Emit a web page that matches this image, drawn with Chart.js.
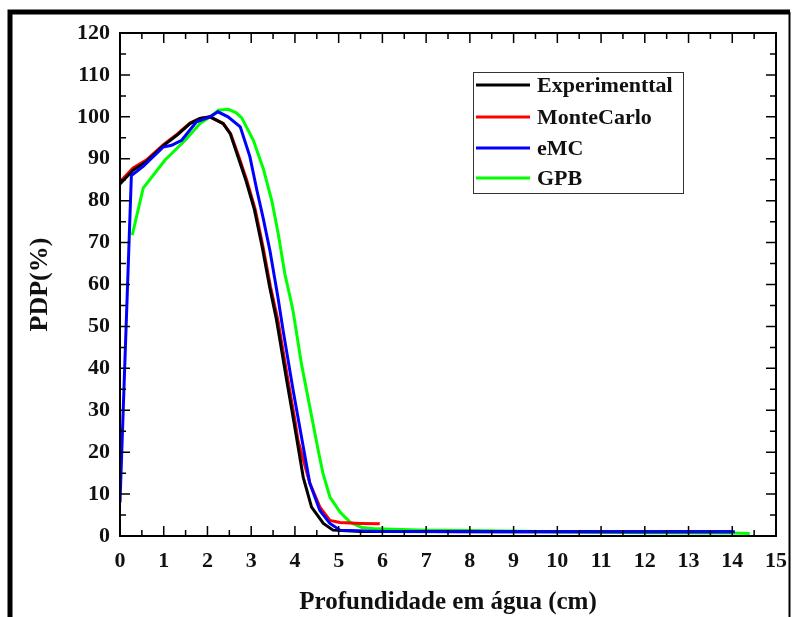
<!DOCTYPE html>
<html>
<head>
<meta charset="utf-8">
<script src="https://cdn.jsdelivr.net/npm/chart.js@4"></script>
<style>
  html, body { margin: 0; padding: 0; background: #fff; }
  canvas { display: block; }
</style>
</head>
<body>
<canvas id="myChart" width="792" height="617"></canvas>
<script>
// depth (cm) and PDP (%) for each curve
var expX = [0, 0.3, 0.6, 1.0, 1.3, 1.6, 1.83, 2.06, 2.36, 2.52, 2.7, 2.88, 3.07, 3.25, 3.42, 3.58, 3.81, 3.98, 4.19, 4.38, 4.65, 4.87, 5.5, 7, 9, 11, 14];
var expY = [84, 87.3, 89.3, 93.2, 95.6, 98.4, 99.6, 100, 98.4, 96, 90.4, 84.8, 78, 69, 59.5, 51.5, 37.2, 27, 14, 6.9, 3, 1.4, 1.1, 1.1, 1.0, 1.0, 1.0];

var mcX = [0, 0.3, 0.6, 1.0, 1.3, 1.6, 1.83, 2.06, 2.36, 2.53, 2.72, 2.9, 3.09, 3.27, 3.44, 3.61, 3.84, 4.0, 4.07, 4.34, 4.57, 4.8, 5.03, 5.5, 5.94];
var mcY = [84.5, 87.8, 89.7, 93.4, 95.8, 98.5, 99.6, 100, 98.4, 96, 90.4, 84.8, 78, 69, 59.5, 51.5, 37.2, 27.6, 22.8, 12.6, 6.9, 3.7, 3.2, 3.0, 2.9];

var emcX = [0, 0.26, 0.53, 0.99, 1.18, 1.41, 1.75, 2.06, 2.24, 2.47, 2.75, 2.97, 3.13, 3.27, 3.43, 3.61, 3.73, 3.96, 4.15, 4.34, 4.57, 4.8, 5.03, 6, 8, 10, 12, 14.06];
var emcY = [8, 86, 88.2, 92.8, 93.2, 94.4, 98.8, 100, 101.2, 100, 97.6, 90.5, 82.5, 76, 68, 57, 49, 34.7, 23.6, 12.6, 6.1, 3, 1.4, 1.1, 1.0, 1.0, 1.0, 1.0];

var gpbX = [0.28, 0.53, 1.03, 1.49, 1.83, 2.06, 2.25, 2.48, 2.65, 2.78, 3.05, 3.28, 3.48, 3.62, 3.77, 3.89, 3.96, 4.15, 4.34, 4.46, 4.55, 4.64, 4.8, 5.03, 5.26, 5.53, 5.87, 7, 8, 10, 12, 14, 14.4];
var gpbY = [71.8, 83, 89.7, 94.4, 98.4, 100, 101.6, 101.8, 101, 99.8, 94.4, 87.5, 79.6, 72, 62.5, 57, 53.5, 41, 30.8, 24.3, 19.5, 15, 9.3, 5.7, 3.3, 2, 1.7, 1.4, 1.3, 1.0, 0.8, 0.7, 0.6];

var seriesNames = ["Experimenttal", "MonteCarlo", "eMC", "GPB"];
var seriesColors = ["#000000", "#ff0000", "#0000ff", "#00ff00"];

var xTicks = [0, 15, 1];    // min, max, step
var yTicks = [0, 120, 10];

function toPoints(xs, ys) {
  return xs.map(function (x, i) { return { x: x, y: ys[i] }; });
}

var FONT = "'Liberation Serif', 'Times New Roman', serif";

// outer frame, plot box, inward ticks and the boxed legend
var framePlugin = {
  id: 'framePlugin',
  beforeDraw: function (chart) {
    var ctx = chart.ctx;
    ctx.save();
    ctx.fillStyle = '#fff';
    ctx.fillRect(0, 0, chart.width, chart.height);
    ctx.strokeStyle = '#000';
    ctx.lineWidth = 5;
    ctx.beginPath();
    ctx.moveTo(10, chart.height);
    ctx.lineTo(10, 12);
    ctx.lineTo(790, 12);
    ctx.stroke();
    ctx.lineWidth = 2;
    ctx.beginPath();
    ctx.moveTo(789.5, 12);
    ctx.lineTo(789.5, chart.height);
    ctx.stroke();
    ctx.restore();
  },
  afterDatasetsDraw: function (chart) {
    var ctx = chart.ctx, a = chart.chartArea;
    var xs = chart.scales.x, ys = chart.scales.y;
    ctx.save();
    ctx.strokeStyle = '#000';
    ctx.lineWidth = 2;
    ctx.strokeRect(a.left, a.top, a.right - a.left, a.bottom - a.top);
    ctx.lineWidth = 1.5;
    ctx.beginPath();
    xs.ticks.forEach(function (t) {
      var steps = [[t.value, 10], [t.value + 0.5, 6]];
      steps.forEach(function (s) {
        if (s[0] > xs.max) return;
        var px = xs.getPixelForValue(s[0]);
        ctx.moveTo(px, a.bottom); ctx.lineTo(px, a.bottom - s[1]);
        ctx.moveTo(px, a.top); ctx.lineTo(px, a.top + s[1]);
      });
    });
    ys.ticks.forEach(function (t) {
      var steps = [[t.value, 10], [t.value + 5, 6]];
      steps.forEach(function (s) {
        if (s[0] > ys.max) return;
        var py = ys.getPixelForValue(s[0]);
        ctx.moveTo(a.left, py); ctx.lineTo(a.left + s[1], py);
        ctx.moveTo(a.right, py); ctx.lineTo(a.right - s[1], py);
      });
    });
    ctx.stroke();
    ctx.restore();
  },
  afterDraw: function (chart) {
    var ctx = chart.ctx;
    var boxX = 473.5, boxY = 72.5, boxW = 210, boxH = 121;
    var rows = [85, 117, 148, 178];
    ctx.save();
    ctx.fillStyle = '#fff';
    ctx.fillRect(boxX, boxY, boxW, boxH);
    ctx.strokeStyle = '#333';
    ctx.lineWidth = 1;
    ctx.strokeRect(boxX, boxY, boxW, boxH);
    ctx.font = 'bold 22px ' + FONT;
    ctx.textBaseline = 'middle';
    ctx.textAlign = 'left';
    chart.data.datasets.forEach(function (ds, i) {
      ctx.strokeStyle = ds.borderColor;
      ctx.lineWidth = 3;
      ctx.beginPath();
      ctx.moveTo(476, rows[i]);
      ctx.lineTo(530, rows[i]);
      ctx.stroke();
      ctx.fillStyle = '#111';
      ctx.fillText(ds.label, 537, rows[i] + 1);
    });
    ctx.restore();
  }
};

var pointSets = [toPoints(expX, expY), toPoints(mcX, mcY), toPoints(emcX, emcY), toPoints(gpbX, gpbY)];
var drawOrder = [1, 2, 0, 3];

new Chart("myChart", {
  type: "line",
  data: {
    datasets: pointSets.map(function (pts, i) {
      return {
        label: seriesNames[i],
        data: pts,
        borderColor: seriesColors[i],
        backgroundColor: seriesColors[i],
        borderWidth: 3,
        pointRadius: 0,
        tension: 0,
        fill: false,
        order: drawOrder[i]
      };
    })
  },
  options: {
    responsive: false,
    animation: false,
    devicePixelRatio: 1,
    layout: { padding: { top: 33, right: 16, left: 0, bottom: 0 } },
    plugins: {
      legend: { display: false },
      tooltip: { enabled: false }
    },
    scales: {
      x: {
        type: 'linear',
        min: xTicks[0],
        max: xTicks[1],
        grid: { display: false, drawTicks: false },
        border: { display: false },
        ticks: {
          stepSize: xTicks[2],
          padding: 12,
          color: '#111',
          font: { family: FONT, size: 22, weight: 'bold' }
        },
        title: {
          display: true,
          text: 'Profundidade em água (cm)',
          color: '#111',
          font: { family: FONT, size: 25, weight: 'bold', lineHeight: 1 },
          padding: { top: 0, bottom: 2 }
        },
        afterFit: function (scale) {
          scale.height = 81;
          scale.paddingLeft = 0;
          scale.paddingRight = 0;
        }
      },
      y: {
        min: yTicks[0],
        max: yTicks[1],
        grid: { display: false, drawTicks: false },
        border: { display: false },
        ticks: {
          stepSize: yTicks[2],
          padding: 10,
          color: '#111',
          font: { family: FONT, size: 22, weight: 'bold' }
        },
        title: {
          display: true,
          text: 'PDP(%)',
          color: '#111',
          font: { family: FONT, size: 26, weight: 'bold', lineHeight: 1 },
          padding: { top: 27, bottom: 0 }
        },
        afterFit: function (scale) {
          scale.width = 120;
          scale.paddingTop = 0;
          scale.paddingBottom = 0;
        }
      }
    }
  },
  plugins: [framePlugin]
});
</script>
</body>
</html>
